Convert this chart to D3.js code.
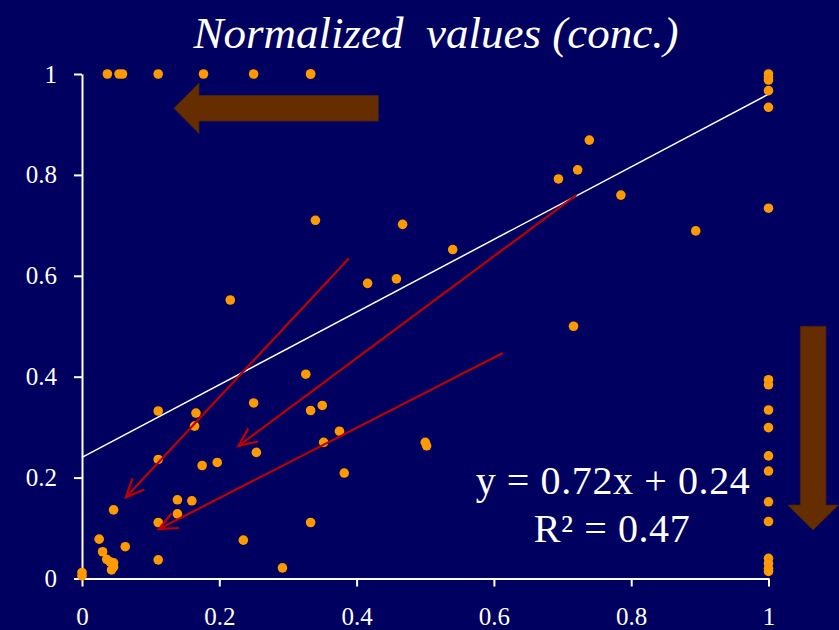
<!DOCTYPE html>
<html>
<head>
<meta charset="utf-8">
<script src="https://cdn.jsdelivr.net/npm/d3@7"></script>
<style>
  html, body { margin: 0; padding: 0; background: #000060; }
  svg { display: block; }
  text { font-family: "Liberation Serif", "Times New Roman", serif; fill: #fff; }
</style>
</head>
<body>
<svg id="chart" width="839" height="630"></svg>
<script>
// points
const xValues = [
  0.037, 0.054, 0.059, 0.111, 0.177, 0.25, 0.333, 0.333,
  1, 1, 1, 1, 1, 1, 1, 1, 1, 1, 1, 1, 1, 1, 1, 1, 1, 1,
  0.739, 0.722, 0.694, 0.785, 0.894, 0.467, 0.540, 0.458, 0.716, 0.340, 0.416, 0.216,
  0.111, 0.166, 0.164, 0.250, 0.333, 0.350, 0.375, 0.352, 0.382, 0.111, 0.254, 0.175, 0.197, 0.326, 0.500, 0.502,
  0.046, 0.139, 0.160, 0.139, 0.111, 0.333, 0.025, 0.063, 0.030, 0.235, 0.111, 0.292,
  0.036, 0.041, 0.046, 0.046, 0.043, 0, 0
];
const yValues = [
  1, 1, 1, 1, 1, 1, 1, 1,
  1.0, 0.994, 0.988, 0.967, 0.934, 0.734, 0.394, 0.384, 0.334, 0.299, 0.243, 0.213, 0.152, 0.113, 0.040, 0.030, 0.020, 0.014,
  0.869, 0.810, 0.792, 0.760, 0.689, 0.702, 0.652, 0.594, 0.500, 0.710, 0.585, 0.552,
  0.332, 0.328, 0.302, 0.348, 0.333, 0.343, 0.292, 0.270, 0.209, 0.236, 0.250, 0.224, 0.230, 0.405, 0.270, 0.263,
  0.136, 0.156, 0.154, 0.128, 0.111, 0.111, 0.078, 0.063, 0.053, 0.076, 0.037, 0.021,
  0.038, 0.033, 0.031, 0.023, 0.017, 0.012, 0.005
];
const xTicks = [0, 0.2, 0.4, 0.6, 0.8, 1];
const yTicks = [0, 0.2, 0.4, 0.6, 0.8, 1];
const slope = 0.72, intercept = 0.24, rSquared = 0.47;
// red annotation arrows [x1, y1, x2, y2] in data units
const redArrows = [
  [0.389, 0.635, 0.064, 0.161],
  [0.720, 0.760, 0.228, 0.263],
  [0.613, 0.447, 0.112, 0.098]
];
// big brown arrows: tail -> tip, data units
const blockArrows = [
  [0.4316, 0.932, 0.134, 0.932],
  [1.065, 0.500, 1.065, 0.096]
];

const svg = d3.select("#chart");
const x = d3.scaleLinear().domain([0, 1]).range([82, 768.5]);
const y = d3.scaleLinear().domain([0, 1]).range([578.5, 74]);

svg.append("rect").attr("width", 839).attr("height", 630).attr("fill", "#000060");

svg.append("text")
  .attr("x", 436).attr("y", 48)
  .attr("text-anchor", "middle")
  .style("font-size", "45px").style("font-style", "italic")
  .style("white-space", "pre")
  .text("Normalized  values (conc.)");

const fmt = d => d === 0 || d === 1 ? d : d3.format(".1f")(d);
const xAxis = svg.append("g")
  .attr("transform", "translate(0," + y(0) + ")")
  .call(d3.axisBottom(x).tickValues(xTicks).tickSize(8).tickPadding(21).tickSizeOuter(0).tickFormat(fmt));
const yAxis = svg.append("g")
  .attr("transform", "translate(" + x(0) + ",0)")
  .call(d3.axisLeft(y).tickValues(yTicks).tickSize(8).tickPadding(17).tickSizeOuter(0).tickFormat(fmt));

[xAxis, yAxis].forEach(g => {
  g.attr("font-family", null).attr("font-size", null);
  g.select(".domain").attr("stroke", "#fff").attr("stroke-width", 2);
  g.selectAll(".tick line").attr("stroke", "#fff").attr("stroke-width", 2);
  g.selectAll(".tick text").attr("fill", "#fff").style("font-size", "25px");
});

svg.append("line")
  .attr("x1", x(0)).attr("y1", y(intercept))
  .attr("x2", x(1)).attr("y2", y(slope + intercept))
  .attr("stroke", "#fff").attr("stroke-width", 1.5);

svg.append("g").selectAll("circle")
  .data(d3.range(xValues.length))
  .join("circle")
  .attr("cx", i => x(xValues[i]))
  .attr("cy", i => y(yValues[i]))
  .attr("r", 4.8)
  .attr("fill", "#ff9900");

// open red arrowheads
const red = svg.append("g").attr("stroke", "#c00000").attr("stroke-width", 2.2).attr("fill", "none");
redArrows.forEach(a => {
  const x1 = x(a[0]), y1 = y(a[1]), x2 = x(a[2]), y2 = y(a[3]);
  const ang = Math.atan2(y2 - y1, x2 - x1);
  const len = 20, spread = 0.42;
  red.append("line").attr("x1", x1).attr("y1", y1).attr("x2", x2).attr("y2", y2);
  red.append("path").attr("d",
    "M" + (x2 - len * Math.cos(ang - spread)) + "," + (y2 - len * Math.sin(ang - spread)) +
    "L" + x2 + "," + y2 +
    "L" + (x2 - len * Math.cos(ang + spread)) + "," + (y2 - len * Math.sin(ang + spread)));
});

// block arrows
blockArrows.forEach(a => {
  const x1 = x(a[0]), y1 = y(a[1]), x2 = x(a[2]), y2 = y(a[3]);
  const L = Math.hypot(x2 - x1, y2 - y1);
  const ang = Math.atan2(y2 - y1, x2 - x1) * 180 / Math.PI;
  const bw = 12.8, hw = 25.3, hl = 25;
  svg.append("path")
    .attr("transform", "translate(" + x1 + "," + y1 + ") rotate(" + ang + ")")
    .attr("d", "M0," + (-bw) + "L" + (L - hl) + "," + (-bw) + "L" + (L - hl) + "," + (-hw) +
      "L" + L + ",0L" + (L - hl) + "," + hw + "L" + (L - hl) + "," + bw + "L0," + bw + "Z")
    .attr("fill", "#662d00").attr("stroke", "#4a2410").attr("stroke-width", 0.8);
});

svg.append("text")
  .attr("x", 613).attr("y", 494)
  .attr("text-anchor", "middle")
  .style("font-size", "40px").style("letter-spacing", "0.6px")
  .text("y = " + slope + "x + " + intercept);
svg.append("text")
  .attr("x", 612).attr("y", 542)
  .attr("text-anchor", "middle")
  .style("font-size", "40px").style("letter-spacing", "0.6px")
  .text("R² = " + rSquared);
</script>
</body>
</html>
